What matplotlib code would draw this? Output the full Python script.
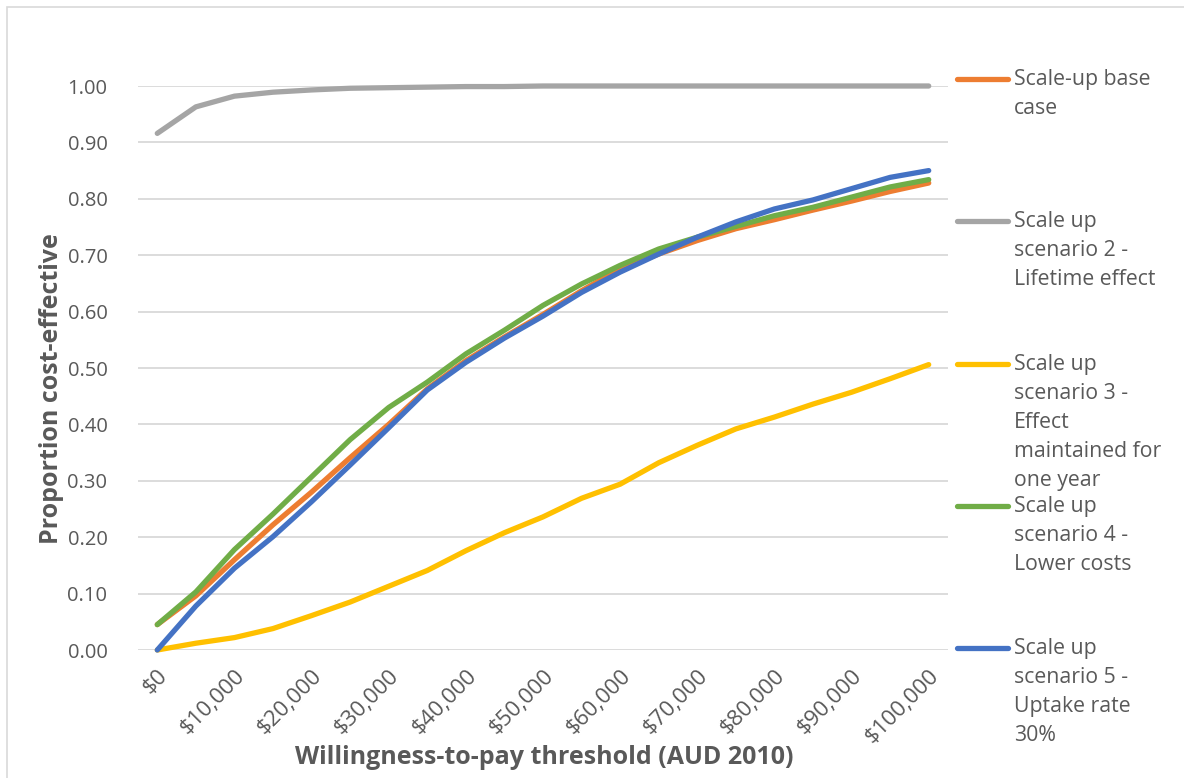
import matplotlib.pyplot as plt
from matplotlib.lines import Line2D
from matplotlib.patches import Rectangle
import numpy as np

plt.rcParams['font.family'] = ['Open Sans', 'DejaVu Sans']

# Willingness-to-pay thresholds (AUD 2010)
wtp = np.arange(0, 100001, 5000)

base_case = [0.045, 0.096, 0.160, 0.222, 0.280, 0.341, 0.400, 0.463, 0.513, 0.555, 0.595,
             0.637, 0.676, 0.702, 0.726, 0.747, 0.763, 0.780, 0.796, 0.813, 0.828]
lifetime = [0.916, 0.963, 0.982, 0.989, 0.993, 0.996, 0.997, 0.998, 0.999, 0.999, 1.0,
            1.0, 1.0, 1.0, 1.0, 1.0, 1.0, 1.0, 1.0, 1.0, 1.0]
one_year = [0.000, 0.012, 0.022, 0.038, 0.061, 0.085, 0.113, 0.141, 0.176, 0.208, 0.236,
            0.269, 0.294, 0.332, 0.363, 0.392, 0.413, 0.436, 0.457, 0.481, 0.506]
lower_costs = [0.045, 0.103, 0.178, 0.241, 0.307, 0.373, 0.430, 0.475, 0.525, 0.567, 0.611,
               0.649, 0.682, 0.711, 0.732, 0.751, 0.770, 0.785, 0.803, 0.821, 0.834]
uptake_30 = [0.000, 0.078, 0.145, 0.201, 0.263, 0.328, 0.394, 0.461, 0.510, 0.553, 0.592,
             0.634, 0.670, 0.702, 0.732, 0.759, 0.782, 0.798, 0.818, 0.838, 0.850]

labels = ["Scale-up base\ncase",
          "Scale up\nscenario 2 -\nLifetime effect",
          "Scale up\nscenario 3 -\nEffect\nmaintained for\none year",
          "Scale up\nscenario 4 -\nLower costs",
          "Scale up\nscenario 5 -\nUptake rate\n30%"]
series = [base_case, lifetime, one_year, lower_costs, uptake_30]
colors = ["#ED7D31", "#A5A5A5", "#FFC000", "#70AD47", "#4472C4"]

txt = "#595959"
W, H = 1184, 778
fig = plt.figure(figsize=(W / 100, H / 100), dpi=100)
ax = fig.add_axes([138 / W, 1 - 650 / H, (948 - 138) / W, (650 - 86) / H])

# chart border (Excel chart area)
fig.patches.append(Rectangle((7 / W, -0.1), 1.2, 1 - 7 / H + 0.1, transform=fig.transFigure,
                             fill=False, edgecolor="#D9D9D9", lw=1.2))

for vals, c in zip(series, colors):
    ax.plot(wtp, vals, color=c, lw=3.8, solid_capstyle='round', solid_joinstyle='round',
            clip_on=False, zorder=3)

ax.set_xlim(-2500, 102500)
ax.set_ylim(0, 1.0)
ax.set_yticks(np.arange(0, 1.01, 0.1))
ax.set_yticklabels([f"{v:.2f}" for v in np.arange(0, 1.01, 0.1)])
xt = np.arange(0, 100001, 10000)
ax.set_xticks(xt)
ax.set_xticklabels([f"${v:,}" for v in xt], rotation=45, ha='right', rotation_mode='anchor')
ax.grid(axis='y', color="#D9D9D9", lw=1.3)
ax.set_axisbelow(True)
for s in ax.spines.values():
    s.set_visible(False)
ax.tick_params(length=0, colors=txt)
ax.tick_params(axis='x', labelsize=16, pad=11)
ax.tick_params(axis='y', labelsize=14.5, pad=22)

ax.set_xlabel("Willingness-to-pay threshold (AUD 2010)", fontsize=18, fontweight='bold',
              color=txt, va='center')
ax.xaxis.set_label_coords(0.501, -(757 - 650) / 564)
ax.set_ylabel("Proportion cost-effective", fontsize=18, fontweight='bold', color=txt,
              va='center')
ax.yaxis.set_label_coords((52 - 138) / 810, (650 - 389) / 564)

# legend on the right, Excel style (key aligned with the first text line)
key_y = [79, 221, 364, 506, 648]
for lab, c, ky in zip(labels, colors, key_y):
    fig.add_artist(Line2D([957 / W, 1008 / W], [1 - ky / H, 1 - ky / H], color=c, lw=3.8,
                          solid_capstyle='round', transform=fig.transFigure))
    fig.text(1014 / W, 1 - (ky - 10) / H, lab, color=txt, fontsize=15.3, va='top', ha='left',
             linespacing=1.5)

fig.savefig("out.png", dpi=100)
